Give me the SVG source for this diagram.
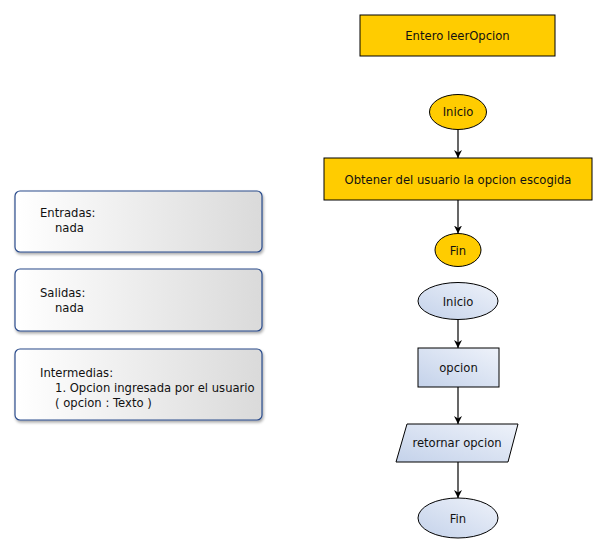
<svg xmlns="http://www.w3.org/2000/svg" width="607" height="553" viewBox="0 0 607 553">
<defs>
<linearGradient id="gBox" x1="0" y1="0" x2="1" y2="0"><stop offset="0" stop-color="#ffffff"/><stop offset="1" stop-color="#dadada"/></linearGradient>
<linearGradient id="gBlue" x1="0" y1="1" x2="1" y2="0"><stop offset="0" stop-color="#c4d2ea"/><stop offset="1" stop-color="#eef2fa"/></linearGradient>
<filter id="sh" x="-10%" y="-10%" width="130%" height="140%"><feGaussianBlur in="SourceAlpha" stdDeviation="1.5"/><feOffset dx="1" dy="2"/><feComponentTransfer><feFuncA type="linear" slope="0.35"/></feComponentTransfer><feMerge><feMergeNode/><feMergeNode in="SourceGraphic"/></feMerge></filter>
<marker id="arr" viewBox="0 0 10 10" refX="10" refY="5" markerWidth="8" markerHeight="8" orient="auto" markerUnits="userSpaceOnUse"><path d="M0,0 L10,5 L0,10 L3,5 Z" fill="#000"/></marker>
</defs>
<style>
text{font-family:"DejaVu Sans","Liberation Sans",sans-serif;font-size:11.6px;fill:#111}
.c{text-anchor:middle}
.y{fill:#ffcc00;stroke:#000;stroke-width:1}
.b{fill:url(#gBlue);stroke:#000;stroke-width:1}
.box{fill:url(#gBox);stroke:#2b4c8c;stroke-width:1.2;filter:url(#sh)}
.e{stroke:#000;stroke-width:1.2;fill:none;marker-end:url(#arr)}
</style>
<rect width="607" height="553" fill="#fff"/>
<g id="title"><rect class="y" x="360" y="15" width="195" height="41"/><text class="c" x="457.5" y="40">Entero leerOpcion</text></g>
<g id="inicio1"><ellipse class="y" cx="458" cy="112" rx="28.5" ry="17.5"/><text class="c" x="458" y="116">Inicio</text></g>
<g id="obtener"><rect class="y" x="324" y="158" width="268" height="42"/><text class="c" x="458" y="183.5">Obtener del usuario la opcion escogida</text></g>
<g id="fin1"><ellipse class="y" cx="458" cy="250" rx="23" ry="16.5"/><text class="c" x="458" y="254.5">Fin</text></g>
<g id="inicio2"><ellipse class="b" cx="458" cy="301" rx="40" ry="18.5"/><text class="c" x="458" y="305.5">Inicio</text></g>
<g id="opcion"><rect class="b" x="418" y="348" width="81" height="39"/><text class="c" x="458.5" y="372">opcion</text></g>
<g id="retornar"><polygon class="b" points="407,424 518,424 508,462 396,462"/><text class="c" x="457" y="447">retornar opcion</text></g>
<g id="fin2"><ellipse class="b" cx="458" cy="518" rx="40" ry="20"/><text class="c" x="458" y="522.5">Fin</text></g>
<g id="entradas"><rect class="box" x="15" y="191" width="247" height="61" rx="5"/><text x="40" y="217">Entradas:</text><text x="55" y="232">nada</text></g>
<g id="salidas"><rect class="box" x="15" y="269" width="247" height="62" rx="5"/><text x="40" y="297">Salidas:</text><text x="55" y="312">nada</text></g>
<g id="intermedias"><rect class="box" x="15" y="349" width="247" height="71" rx="5"/><text x="40" y="377">Intermedias:</text><text x="55" y="392">1. Opcion ingresada por el usuario</text><text x="55" y="407">( opcion : Texto )</text></g>
<g id="connectors">
<line class="e" x1="458" y1="129.5" x2="458" y2="158"/>
<line class="e" x1="458" y1="200" x2="458" y2="233.5"/>
<line class="e" x1="458" y1="319.5" x2="458" y2="348"/>
<line class="e" x1="458" y1="387" x2="458" y2="424"/>
<line class="e" x1="458" y1="462" x2="458" y2="498"/>
</g>
</svg>
